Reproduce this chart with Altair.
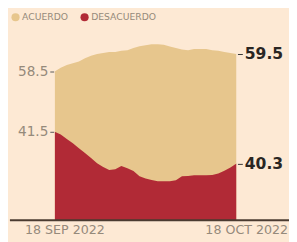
import altair as alt
import pandas as pd

# Data (display units, daily from 18 Sep to 18 Oct 2022)
acuerdo = [58.5, 59.5, 60.3, 60.8, 61.3, 62.2, 62.9, 63.4, 63.7, 64.0, 64.0,
           64.3, 64.5, 65.1, 65.6, 65.9, 66.2, 66.2, 66.0, 65.5, 65.1, 64.7,
           64.5, 64.8, 64.8, 64.8, 64.5, 64.3, 64.0, 63.7, 63.4]
desacuerdo = [41.5, 40.7, 39.4, 38.2, 36.8, 35.5, 34.1, 32.6, 31.5, 30.7, 30.9,
              31.8, 31.2, 30.4, 28.9, 28.3, 27.9, 27.5, 27.5, 27.5, 27.8, 28.9,
              29.0, 29.2, 29.2, 29.2, 29.3, 29.7, 30.5, 31.4, 32.5]
series_names = ["ACUERDO", "DESACUERDO"]
left_labels = ["58.5", "41.5"]
right_labels = ["59.5", "40.3"]

dates = pd.date_range("2022-09-18", "2022-10-18", freq="D")
df = pd.DataFrame({
    "fecha": list(dates) * 2,
    "valor": acuerdo + desacuerdo,
    "serie": [series_names[0]] * len(dates) + [series_names[1]] * len(dates),
})

BG = "#fde9d4"
TAN = "#e7c68d"
RED = "#b12a36"
GRAY = "#958a7b"

y_scale = alt.Scale(domain=[16.5, 66.7], nice=False, zero=False)
color = alt.Color("serie:N", scale=alt.Scale(domain=series_names, range=[TAN, RED]),
                  legend=alt.Legend(orient="none", legendX=-45, legendY=-31,
                                    direction="horizontal", title=None,
                                    symbolType="circle", symbolSize=70,
                                    symbolStrokeWidth=0, labelFontSize=9.5,
                                    labelColor=GRAY, labelFont="DejaVu Sans",
                                    labelOffset=2, columnPadding=12))

left_expr = (f"datum.value == {acuerdo[0]} ? '{left_labels[0]}' : '{left_labels[1]}'")
right_expr = (f"datum.value == {acuerdo[-1]} ? '{right_labels[0]}' : '{right_labels[1]}'")

x_enc = alt.X("fecha:T", title=None,
              axis=alt.Axis(values=[dates[0].isoformat(), dates[-1].isoformat()],
                            labelExpr="upper(timeFormat(datum.value, '%d %b %Y'))",
                            domain=False, ticks=False, grid=False,
                            labelFlush=False, labelOverlap=False, zindex=2,
                            labelOffset=10, labelPadding=4, labelFontSize=13,
                            labelColor=GRAY, labelFont="DejaVu Sans"))

tan_area = alt.Chart(df).transform_filter(
    alt.datum.serie == series_names[0]
).mark_area(opacity=1, clip=True).encode(
    x=x_enc,
    y=alt.Y("valor:Q", scale=y_scale, title=None,
            axis=alt.Axis(orient="left", values=[acuerdo[0], desacuerdo[0]],
                          labelExpr=left_expr, domain=False, grid=False,
                          tickSize=4, tickColor="#555555", offset=1,
                          labelPadding=2, labelFontSize=14, labelColor=GRAY,
                          labelFont="DejaVu Sans")),
    color=color,
)

red_area = alt.Chart(df).transform_filter(
    alt.datum.serie == series_names[1]
).mark_area(opacity=1, clip=True).encode(
    x=alt.X("fecha:T"),
    y=alt.Y("valor:Q", scale=y_scale, title=None,
            axis=alt.Axis(orient="right", values=[acuerdo[-1], desacuerdo[-1]],
                          labelExpr=right_expr, domain=False, grid=False,
                          tickSize=5, tickColor="#333333", offset=1,
                          labelPadding=2, labelFontSize=16,
                          labelFontWeight="bold",
                          labelColor="#2a2623", labelFont="DejaVu Sans")),
    color=color,
)

baseline = alt.Chart(pd.DataFrame({"a": [0]})).mark_rule(
    color="#4a3b30", strokeWidth=2
).encode(x=alt.value(-46), x2=alt.value(241), y=alt.value(183))

chart = alt.layer(tan_area, red_area, baseline).resolve_axis(
    y="independent"
).properties(
    width=187, height=183,
    autosize=alt.AutoSizeParams(type="none"),
    padding={"left": 48, "top": 32, "right": 54, "bottom": 19},
    background=BG,
).configure_view(stroke=None)

chart.save("out.html", embed_options={"renderer": "svg", "actions": False})
